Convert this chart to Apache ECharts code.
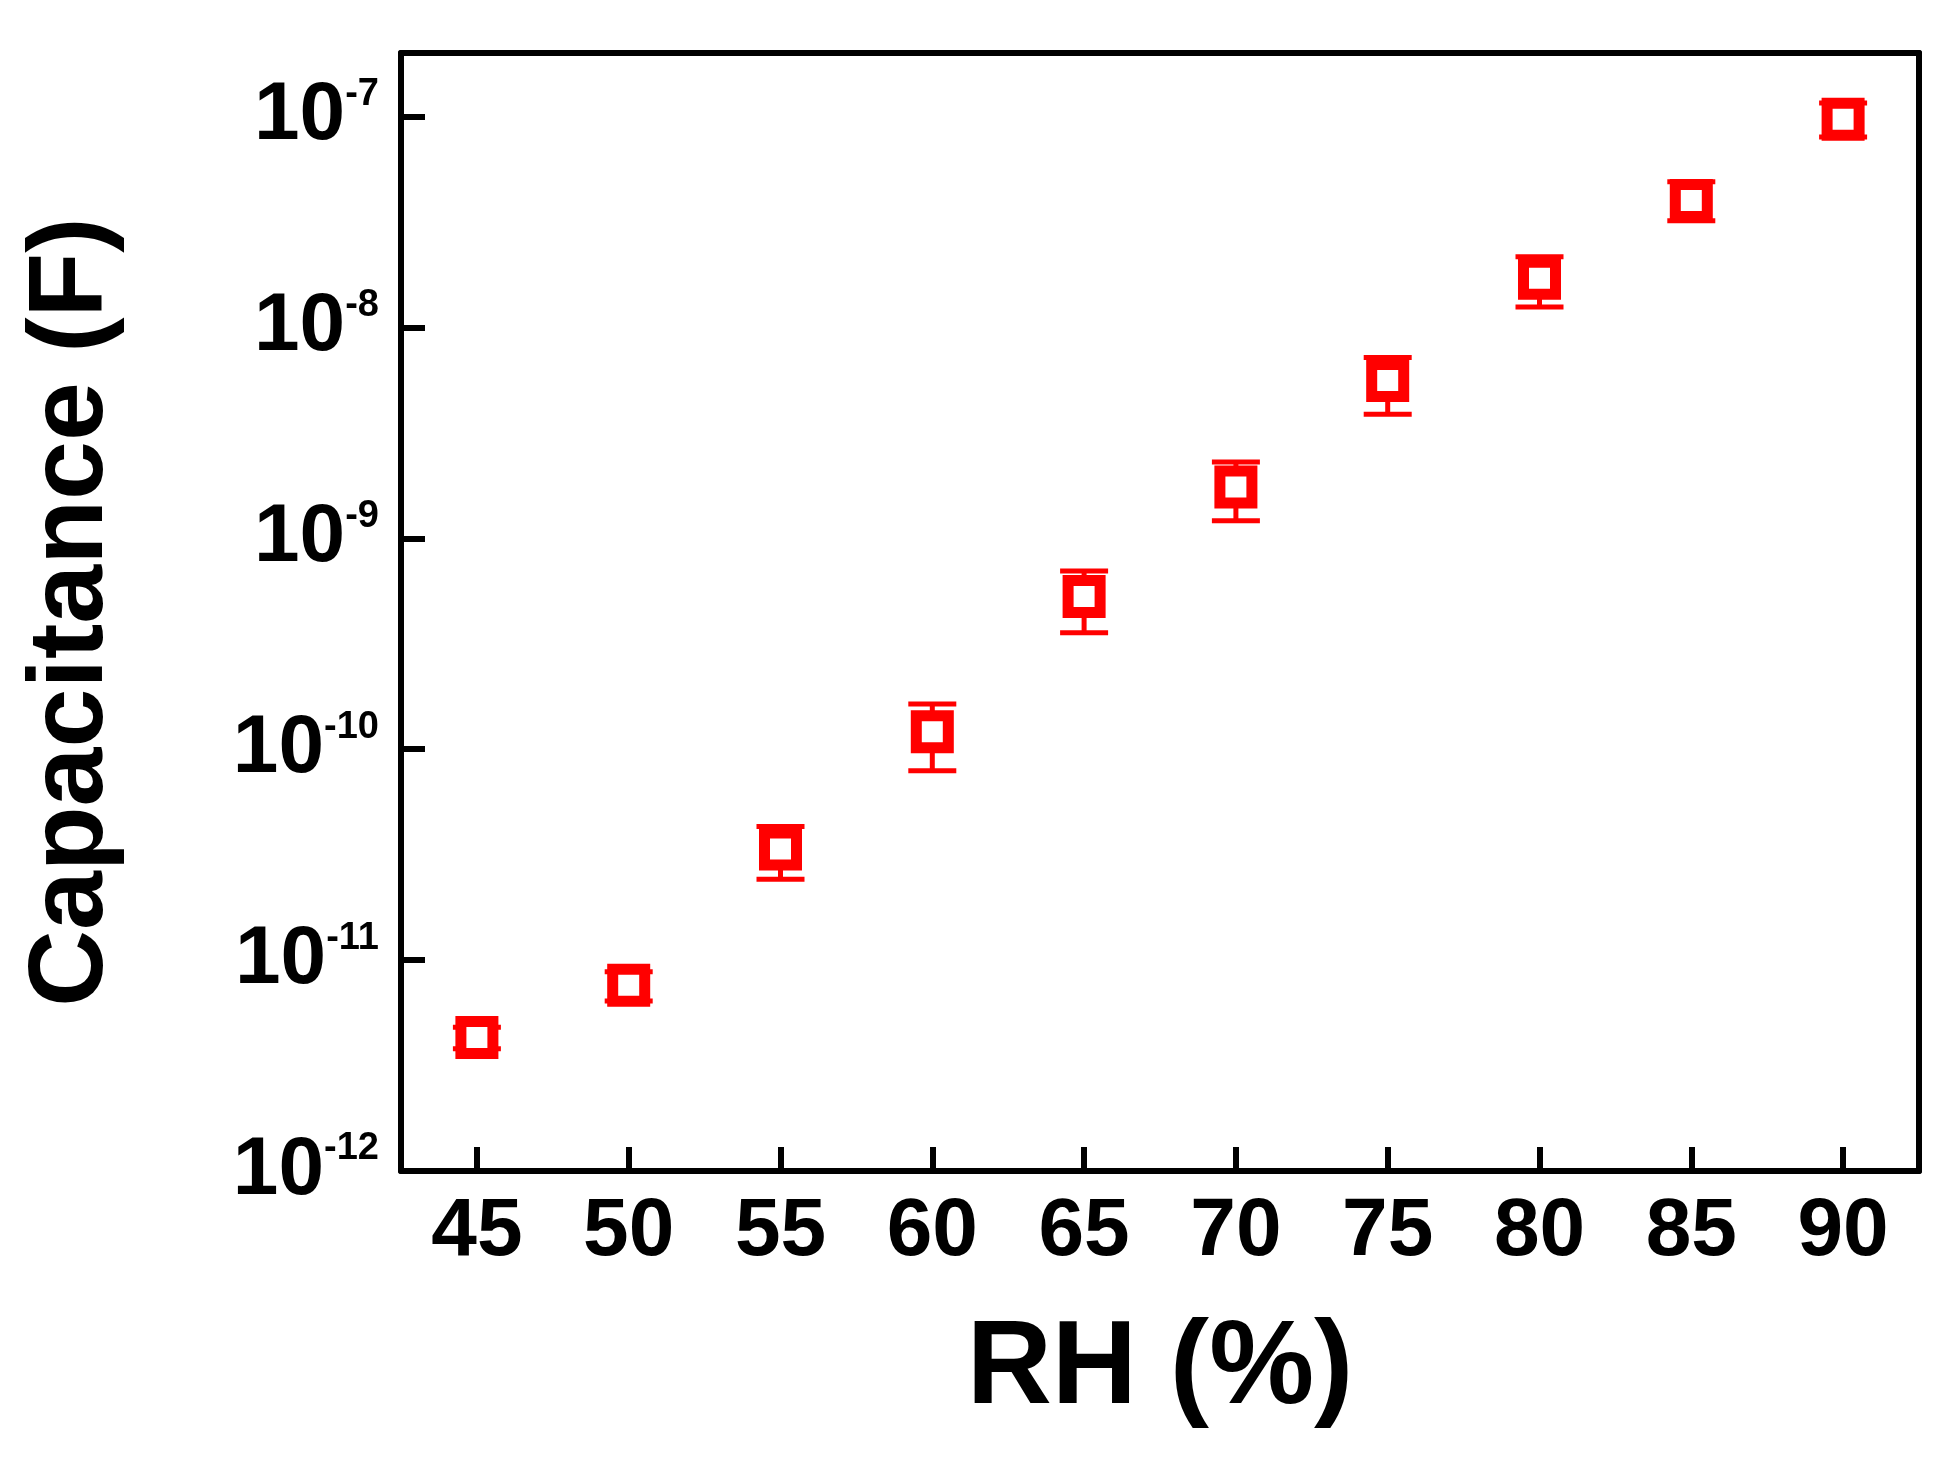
<!DOCTYPE html>
<html>
<head>
<meta charset="utf-8">
<script src="https://cdn.jsdelivr.net/npm/echarts@6/dist/echarts.min.js"></script>
<style>html,body{margin:0;background:#fff}#main{width:1953px;height:1462px}</style>
</head>
<body>
<div id="main"></div>
<script>
// RH (%) vs capacitance
var rh = [45, 50, 55, 60, 65, 70, 75, 80, 85, 90];
var capMean = [4.3e-12, 7.6e-12, 3.36e-11, 1.21e-10, 5.3e-10, 1.75e-9, 5.6e-9, 1.71e-8, 4.0e-8, 9.7e-8];
var capHigh = [4.8e-12, 8.8e-12, 4.3e-11, 1.64e-10, 7.0e-10, 2.3e-9, 7.2e-9, 2.16e-8, 4.9e-8, 1.16e-7];
var capLow = [3.8e-12, 6.4e-12, 2.42e-11, 7.9e-11, 3.57e-10, 1.21e-9, 3.87e-9, 1.25e-8, 3.2e-8, 8.0e-8];
var xTicks = [45, 50, 55, 60, 65, 70, 75, 80, 85, 90];

var chart = echarts.init(document.getElementById('main'));
var font = 'Liberation Sans';
var red = '#ff0000';

var points = rh.map(function (x, i) { return [x, capMean[i]]; });
var bars = rh.map(function (x, i) { return [x, capLow[i], capHigh[i]]; });

var option = {
  animation: false,
  grid: { left: 401, right: 34, top: 53, bottom: 291 },
  xAxis: [{
    type: 'value', min: 42.5, max: 92.5,
    name: 'RH (%)', nameLocation: 'middle', nameGap: 140,
    nameTextStyle: { fontFamily: font, fontWeight: 'bold', fontSize: 118, color: '#000' },
    axisLine: { lineStyle: { color: '#000', width: 6 } },
    axisTick: { inside: true, length: 24, lineStyle: { width: 6, color: '#000' }, customValues: xTicks },
    axisLabel: { customValues: xTicks, fontFamily: font, fontWeight: 'bold', fontSize: 82, color: '#000', margin: 20 },
    splitLine: { show: false }
  }, {
    type: 'value', position: 'top', min: 42.5, max: 92.5,
    axisLine: { show: true, lineStyle: { color: '#000', width: 6 } },
    axisTick: { show: false }, axisLabel: { show: false }, splitLine: { show: false }
  }],
  yAxis: [{
    type: 'log', logBase: 10, min: 1e-12, max: 2e-7,
    name: 'Capacitance (F)', nameLocation: 'middle', nameGap: 275, nameRotate: 90,
    nameTextStyle: { fontFamily: font, fontWeight: 'bold', fontSize: 106, color: '#000' },
    axisLine: { show: true, lineStyle: { color: '#000', width: 6 } },
    axisTick: { inside: true, length: 24, lineStyle: { width: 6, color: '#000' } },
    axisLabel: {
      margin: 22,
      formatter: function (v) {
        var e = Math.round(Math.log10(v));
        return '{b|10}{s|' + e + '}';
      },
      rich: {
        b: { fontFamily: font, fontWeight: 'bold', fontSize: 82, color: '#000' },
        s: { fontFamily: font, fontWeight: 'bold', fontSize: 38, color: '#000', verticalAlign: 'top', padding: [0, 0, 44, 0] }
      }
    },
    splitLine: { show: false }
  }, {
    type: 'log', position: 'right', min: 1e-12, max: 2e-7,
    axisLine: { show: true, lineStyle: { color: '#000', width: 6 } },
    axisTick: { show: false }, axisLabel: { show: false }, splitLine: { show: false }
  }],
  series: [{
    type: 'custom',
    data: bars,
    renderItem: function (params, api) {
      var lo = api.coord([api.value(0), api.value(1)]);
      var hi = api.coord([api.value(0), api.value(2)]);
      var w = 24;
      var st = { stroke: red, lineWidth: 5 };
      return {
        type: 'group', children: [
          { type: 'line', shape: { x1: lo[0], y1: lo[1], x2: hi[0], y2: hi[1] }, style: st },
          { type: 'line', shape: { x1: lo[0] - w, y1: lo[1], x2: lo[0] + w, y2: lo[1] }, style: st },
          { type: 'line', shape: { x1: hi[0] - w, y1: hi[1], x2: hi[0] + w, y2: hi[1] }, style: st }
        ]
      };
    },
    z: 2
  }, {
    type: 'scatter',
    data: points,
    symbol: 'rect',
    symbolSize: 32,
    itemStyle: { color: '#fff', borderColor: red, borderWidth: 11, opacity: 1 },
    z: 3
  }]
};
chart.setOption(option);
</script>
</body>
</html>
